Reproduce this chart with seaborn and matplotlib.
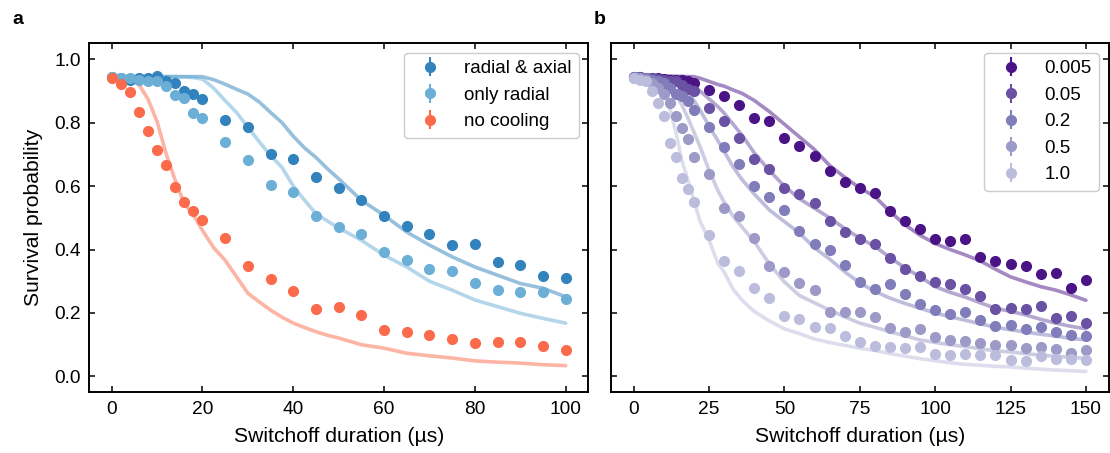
import matplotlib
matplotlib.use("Agg")
import matplotlib.pyplot as plt
import seaborn as sns

# ---- panel a: cooling configurations ----
t_meas_a = [0, 2, 4, 6, 8, 10, 12, 14, 16, 18, 20, 25, 30, 35, 40, 45, 50,
            55, 60, 65, 70, 75, 80, 85, 90, 95, 100]
p_radial_axial = [0.944, 0.942, 0.935, 0.94, 0.94, 0.946, 0.93, 0.924, 0.9, 0.89, 0.876,
                  0.809, 0.785, 0.70, 0.686, 0.63, 0.593, 0.555, 0.505, 0.473, 0.448,
                  0.413, 0.417, 0.362, 0.352, 0.316, 0.311]
p_only_radial = [0.945, 0.94, 0.94, 0.935, 0.93, 0.93, 0.916, 0.888, 0.879, 0.83, 0.813,
                 0.738, 0.683, 0.604, 0.581, 0.506, 0.47, 0.45, 0.392, 0.366, 0.34,
                 0.331, 0.296, 0.272, 0.266, 0.266, 0.245]
p_no_cooling = [0.94, 0.923, 0.895, 0.832, 0.775, 0.714, 0.665, 0.597, 0.55, 0.523, 0.494,
                0.436, 0.348, 0.307, 0.268, 0.214, 0.218, 0.194, 0.147, 0.141, 0.13,
                0.119, 0.105, 0.109, 0.11, 0.096, 0.082]

t_sim_a = [0, 2, 4, 6, 8, 10, 12, 14, 16, 18, 20, 22.5, 25, 27.5, 30, 32.5, 35, 37.5,
           40, 42.5, 45, 47.5, 50, 55, 60, 65, 70, 75, 80, 85, 90, 95, 100]
sim_radial_axial = [0.945, 0.945, 0.945, 0.945, 0.945, 0.945, 0.945, 0.945, 0.945, 0.945,
                    0.945, 0.935, 0.921, 0.905, 0.89, 0.865, 0.832, 0.8, 0.757, 0.72,
                    0.69, 0.655, 0.623, 0.555, 0.508, 0.455, 0.414, 0.377, 0.345, 0.319,
                    0.293, 0.278, 0.251]
sim_only_radial = [0.945, 0.945, 0.945, 0.945, 0.945, 0.945, 0.945, 0.945, 0.944, 0.942,
                   0.937, 0.908, 0.869, 0.832, 0.785, 0.74, 0.696, 0.659, 0.6, 0.555,
                   0.513, 0.49, 0.468, 0.429, 0.382, 0.345, 0.3, 0.272, 0.241, 0.22,
                   0.199, 0.183, 0.168]
sim_no_cooling = [0.94, 0.94, 0.935, 0.92, 0.874, 0.803, 0.701, 0.618, 0.544, 0.51, 0.46,
                  0.405, 0.366, 0.314, 0.262, 0.235, 0.209, 0.187, 0.168, 0.154, 0.141,
                  0.13, 0.121, 0.1, 0.089, 0.073, 0.065, 0.058, 0.049, 0.045, 0.042,
                  0.037, 0.034]

labels_a = ["radial & axial", "only radial", "no cooling"]
colors_a = ["#3182bd", "#6baed6", "#fb6a4a"]

# ---- panel b: different parameter values ----
t_meas_b = [0, 2, 4, 6, 8, 10, 12, 14, 16, 18, 20, 25, 30, 35, 40, 45, 50, 55, 60,
            65, 70, 75, 80, 85, 90, 95, 100, 105, 110, 115, 120, 125, 130, 135, 140,
            145, 150]
p_0005 = [0.945, 0.945, 0.942, 0.94, 0.94, 0.937, 0.935, 0.935, 0.933, 0.93, 0.925,
          0.903, 0.883, 0.854, 0.814, 0.805, 0.752, 0.726, 0.696, 0.646, 0.612, 0.595,
          0.579, 0.523, 0.49, 0.464, 0.434, 0.426, 0.434, 0.377, 0.364, 0.354, 0.349,
          0.322, 0.327, 0.28, 0.304]
p_005 = [0.945, 0.943, 0.94, 0.94, 0.938, 0.935, 0.932, 0.93, 0.92, 0.905, 0.9,
         0.845, 0.805, 0.751, 0.686, 0.655, 0.595, 0.574, 0.548, 0.49, 0.456, 0.432,
         0.417, 0.373, 0.34, 0.316, 0.297, 0.29, 0.275, 0.253, 0.212, 0.217, 0.214,
         0.222, 0.183, 0.191, 0.168]
p_02 = [0.943, 0.94, 0.94, 0.935, 0.93, 0.925, 0.91, 0.89, 0.885, 0.868, 0.84,
        0.786, 0.724, 0.671, 0.6, 0.565, 0.525, 0.457, 0.416, 0.4, 0.35, 0.299,
        0.277, 0.291, 0.26, 0.229, 0.209, 0.196, 0.203, 0.178, 0.16, 0.162, 0.15,
        0.155, 0.14, 0.131, 0.126]
p_05 = [0.94, 0.94, 0.935, 0.925, 0.91, 0.89, 0.863, 0.822, 0.782, 0.749, 0.692,
        0.637, 0.53, 0.507, 0.435, 0.348, 0.328, 0.293, 0.273, 0.204, 0.204, 0.204,
        0.186, 0.154, 0.14, 0.148, 0.123, 0.115, 0.111, 0.105, 0.1, 0.098, 0.089,
        0.094, 0.088, 0.075, 0.084]
p_10 = [0.94, 0.935, 0.93, 0.9, 0.863, 0.822, 0.737, 0.692, 0.627, 0.592, 0.55,
        0.447, 0.363, 0.333, 0.278, 0.246, 0.191, 0.18, 0.157, 0.152, 0.126, 0.107,
        0.097, 0.092, 0.089, 0.094, 0.071, 0.066, 0.07, 0.068, 0.068, 0.052, 0.049,
        0.063, 0.055, 0.055, 0.052]

t_sim_b = [0, 5, 8, 10, 12, 14, 16, 18, 20, 22, 25, 28, 30, 33, 36, 40, 45, 50, 55,
           60, 65, 70, 75, 80, 85, 90, 95, 100, 105, 110, 115, 120, 125, 130, 135,
           140, 145, 150]
sim_0005 = [0.945, 0.946, 0.947, 0.947, 0.947, 0.946, 0.946, 0.945, 0.945, 0.94, 0.93,
            0.92, 0.915, 0.903, 0.892, 0.87, 0.835, 0.795, 0.755, 0.715, 0.665, 0.628,
            0.594, 0.567, 0.52, 0.478, 0.445, 0.419, 0.4, 0.383, 0.364, 0.338, 0.314,
            0.298, 0.283, 0.272, 0.257, 0.24]
sim_005 = [0.945, 0.945, 0.945, 0.945, 0.944, 0.943, 0.94, 0.93, 0.915, 0.9, 0.875,
           0.85, 0.83, 0.795, 0.76, 0.705, 0.649, 0.6, 0.56, 0.53, 0.5, 0.466, 0.436,
           0.41, 0.375, 0.342, 0.314, 0.283, 0.265, 0.25, 0.232, 0.215, 0.205, 0.194,
           0.18, 0.168, 0.158, 0.15]
sim_02 = [0.945, 0.945, 0.945, 0.945, 0.94, 0.93, 0.915, 0.895, 0.87, 0.84, 0.79,
          0.742, 0.71, 0.66, 0.62, 0.575, 0.525, 0.488, 0.452, 0.405, 0.37, 0.33,
          0.295, 0.268, 0.247, 0.23, 0.215, 0.2, 0.188, 0.177, 0.166, 0.155, 0.147,
          0.14, 0.133, 0.127, 0.12, 0.115]
sim_05 = [0.945, 0.945, 0.94, 0.935, 0.915, 0.89, 0.855, 0.815, 0.77, 0.725, 0.65,
          0.585, 0.55, 0.505, 0.47, 0.425, 0.355, 0.298, 0.255, 0.232, 0.209, 0.188,
          0.168, 0.155, 0.141, 0.128, 0.115, 0.107, 0.1, 0.094, 0.087, 0.081, 0.077,
          0.072, 0.067, 0.064, 0.06, 0.057]
sim_10 = [0.945, 0.94, 0.93, 0.9, 0.845, 0.77, 0.68, 0.62, 0.555, 0.49, 0.43, 0.355,
          0.33, 0.275, 0.24, 0.205, 0.175, 0.15, 0.135, 0.118, 0.107, 0.098, 0.089,
          0.082, 0.072, 0.064, 0.056, 0.05, 0.043, 0.038, 0.035, 0.032, 0.03, 0.026,
          0.023, 0.02, 0.018, 0.016]

labels_b = ["0.005", "0.05", "0.2", "0.5", "1.0"]
colors_b = ["#4a1486", "#6a51a3", "#807dba", "#9e9ac8", "#bcbddc"]

sns.set_style("ticks")
plt.rcParams["font.family"] = ["Liberation Sans", "DejaVu Sans"]
plt.rcParams["font.size"] = 13.5
plt.rcParams["axes.linewidth"] = 1.4
for key in ["text.color", "axes.labelcolor", "xtick.color", "ytick.color", "axes.edgecolor"]:
    plt.rcParams[key] = "black"

fig = plt.figure(figsize=(11.1, 4.53), dpi=100)
W, H = 1110, 453
ax_a = fig.add_axes([89 / W, 1 - 392.3 / H, 499.4 / W, 349 / H])
ax_b = fig.add_axes([611 / W, 1 - 392.3 / H, 497.5 / W, 349 / H])

sims_a = [sim_radial_axial, sim_only_radial, sim_no_cooling]
meas_a = [p_radial_axial, p_only_radial, p_no_cooling]
for sim, meas, lab, col in zip(sims_a, meas_a, labels_a, colors_a):
    sns.lineplot(x=t_sim_a, y=sim, ax=ax_a, color=col, alpha=0.5, lw=2.6,
                 legend=False, sort=False)
    ax_a.errorbar(t_meas_a, meas, yerr=0.01, fmt="o", ms=7, color=col,
                  elinewidth=1.5, capsize=0, label=lab, zorder=3)

sims_b = [sim_0005, sim_005, sim_02, sim_05, sim_10]
meas_b = [p_0005, p_005, p_02, p_05, p_10]
for sim, meas, lab, col in zip(sims_b, meas_b, labels_b, colors_b):
    sns.lineplot(x=t_sim_b, y=sim, ax=ax_b, color=col, alpha=0.5, lw=2.6,
                 legend=False, sort=False)
    ax_b.errorbar(t_meas_b, meas, yerr=0.01, fmt="o", ms=7, color=col,
                  elinewidth=1.5, capsize=0, label=lab, zorder=3)

ax_a.set_xlim(-5, 105)
ax_b.set_xlim(-7.5, 157.5)
for ax in (ax_a, ax_b):
    ax.set_ylim(-0.05, 1.05)
    ax.set_yticks([0.0, 0.2, 0.4, 0.6, 0.8, 1.0])
    ax.tick_params(direction="in", top=True, right=True, length=4.5, width=1.1,
                   pad=6, labelsize=13.8)
    ax.set_xlabel("Switchoff duration (µs)", fontsize=15.2, labelpad=7)
    ax.legend(loc="upper right", fontsize=13.5, frameon=True, edgecolor="#cccccc",
              framealpha=1, fancybox=True)
ax_a.set_xticks([0, 20, 40, 60, 80, 100])
ax_b.set_xticks([0, 25, 50, 75, 100, 125, 150])
ax_b.tick_params(labelleft=False)
ax_a.set_ylabel("Survival probability", fontsize=15.2, labelpad=8)

fig.text(12 / W, 1 - 20 / H, "a", fontsize=14, fontweight="bold", va="center")
fig.text(594 / W, 1 - 20 / H, "b", fontsize=14, fontweight="bold", va="center")

fig.savefig("out.png", dpi=100)
